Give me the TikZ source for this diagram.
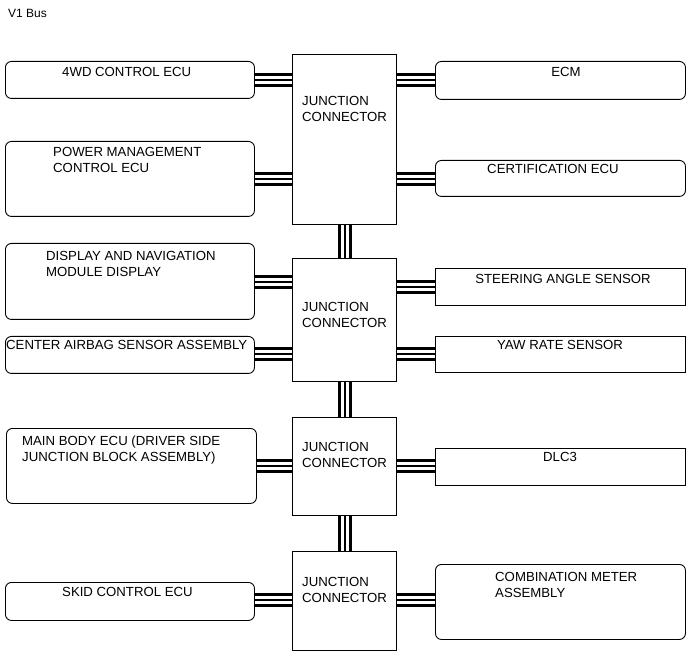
\documentclass[tikz,border=0pt]{standalone}
\usepackage{fontspec}
\setmainfont{Liberation Sans}
\pgfdeclarelayer{bg}
\pgfsetlayers{bg,main}
\begin{document}
\begin{tikzpicture}[x=1pt,y=-1pt,
  rbox/.style={draw, line width=0.9pt, rounded corners=6pt, inner sep=0pt, anchor=north west},
  sbox/.style={draw, line width=0.9pt, inner sep=0pt, anchor=north west},
  txt/.style={inner sep=0pt, anchor=base west, font=\fontsize{13.2}{16}\selectfont, align=left},
  bus/.style={line width=13.5pt, postaction={draw=white,line width=7.5pt}, postaction={draw=black,line width=1.5pt}}
]
\useasboundingbox (0,0) rectangle (691,660);
\node[inner sep=0pt, anchor=base west, font=\fontsize{12}{14}\selectfont] (title) at (8,18) {V1 Bus};

% junction connectors
\node[sbox, minimum width=104pt, minimum height=170pt] (j1) at (292,54) {};
\node[sbox, minimum width=104pt, minimum height=123pt] (j2) at (292,258) {};
\node[sbox, minimum width=104pt, minimum height=98pt] (j3) at (292,417) {};
\node[sbox, minimum width=104pt, minimum height=99pt] (j4) at (292,551) {};
\node[txt] (t1) at (302,122) {JUNCTION\\CONNECTOR};
\node[txt] (t2) at (302,328) {JUNCTION\\CONNECTOR};
\node[txt] (t3) at (302,467) {JUNCTION\\CONNECTOR};
\node[txt] (t4) at (302,602) {JUNCTION\\CONNECTOR};

% left boxes
\node[rbox, minimum width=249pt, minimum height=37pt] (l1) at (5,61) {};
\node[rbox, minimum width=249pt, minimum height=75pt] (l2) at (5,141) {};
\node[rbox, minimum width=249pt, minimum height=76pt] (l3) at (5,243) {};
\node[rbox, minimum width=249pt, minimum height=37pt] (l4) at (5,336) {};
\node[rbox, minimum width=250pt, minimum height=75pt] (l5) at (6,428) {};
\node[rbox, minimum width=249pt, minimum height=38pt] (l6) at (5,582) {};
\node[txt] (tl1) at (62,77) {4WD CONTROL ECU};
\node[txt] (tl2) at (53,173) {POWER MANAGEMENT\\CONTROL ECU};
\node[txt] (tl3) at (46,277) {DISPLAY AND NAVIGATION\\MODULE DISPLAY};
\node[txt] (tl4) at (6,349) {CENTER AIRBAG SENSOR ASSEMBLY};
\node[txt] (tl5) at (22,461) {MAIN BODY ECU (DRIVER SIDE\\JUNCTION BLOCK ASSEMBLY)};
\node[txt] (tl6) at (62,596) {SKID CONTROL ECU};

% right boxes
\node[rbox, minimum width=250pt, minimum height=38pt] (r1) at (435,61) {};
\node[rbox, minimum width=250pt, minimum height=36pt] (r2) at (435,160) {};
\node[sbox, minimum width=250pt, minimum height=37pt] (r3) at (435,268) {};
\node[sbox, minimum width=250pt, minimum height=36pt] (r4) at (435,336) {};
\node[sbox, minimum width=250pt, minimum height=37pt] (r5) at (435,448) {};
\node[rbox, minimum width=250pt, minimum height=75pt] (r6) at (435,564) {};
\node[txt, anchor=base] (tr1) at (566,77) {ECM};
\node[txt, anchor=base] (tr2) at (553,174) {CERTIFICATION ECU};
\node[txt, anchor=base] (tr3) at (563,284) {STEERING ANGLE SENSOR};
\node[txt, anchor=base] (tr4) at (560,349) {YAW RATE SENSOR};
\node[txt, anchor=base] (tr5) at (560,461) {DLC3};
\node[txt] (tr6) at (495,597) {COMBINATION METER\\ASSEMBLY};

% buses
\begin{pgfonlayer}{bg}
\draw[bus] (l1.east |- 0,80) -- (j1.west |- 0,80);
\draw[bus] (l2.east |- 0,179) -- (j1.west |- 0,179);
\draw[bus] (j1.east |- 0,80) -- (r1.west |- 0,80);
\draw[bus] (j1.east |- 0,179) -- (r2.west |- 0,179);
\draw[bus] (l3.east |- 0,282) -- (j2.west |- 0,282);
\draw[bus] (l4.east |- 0,354) -- (j2.west |- 0,354);
\draw[bus] (j2.east |- 0,287) -- (r3.west |- 0,287);
\draw[bus] (j2.east |- 0,354) -- (r4.west |- 0,354);
\draw[bus] (l5.east |- 0,466) -- (j3.west |- 0,466);
\draw[bus] (j3.east |- 0,466) -- (r5.west |- 0,466);
\draw[bus] (l6.east |- 0,600) -- (j4.west |- 0,600);
\draw[bus] (j4.east |- 0,600) -- (r6.west |- 0,600);
\draw[bus] (j1.south -| 345,0) -- (j2.north -| 345,0);
\draw[bus] (j2.south -| 345,0) -- (j3.north -| 345,0);
\draw[bus] (j3.south -| 345,0) -- (j4.north -| 345,0);
\end{pgfonlayer}
\end{tikzpicture}
\end{document}
